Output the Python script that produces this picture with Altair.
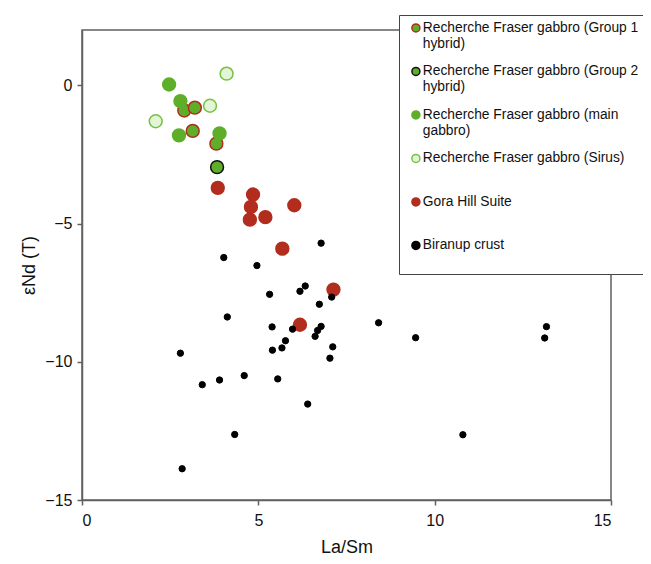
import json
import altair as alt
import pandas as pd

# ---- data ----
groups = [
    "Recherche Fraser gabbro (Group 1 hybrid)",
    "Recherche Fraser gabbro (Group 2 hybrid)",
    "Recherche Fraser gabbro (main gabbro)",
    "Recherche Fraser gabbro (Sirus)",
    "Gora Hill Suite",
    "Biranup crust",
]
wrapped = {
    "Recherche Fraser gabbro (Group 1 hybrid)": ["Recherche Fraser gabbro (Group 1", "hybrid)"],
    "Recherche Fraser gabbro (Group 2 hybrid)": ["Recherche Fraser gabbro (Group 2", "hybrid)"],
    "Recherche Fraser gabbro (main gabbro)": ["Recherche Fraser gabbro (main", "gabbro)"],
}

g1_x = [2.90, 3.20, 3.14, 3.81]
g1_y = [-0.91, -0.81, -1.65, -2.11]
g2_x = [3.83]
g2_y = [-2.96]
main_x = [2.47, 2.79, 2.75, 3.90]
main_y = [0.03, -0.57, -1.81, -1.74]
sirus_x = [4.10, 3.63, 2.09]
sirus_y = [0.42, -0.74, -1.30]
gora_x = [3.85, 4.85, 4.79, 4.76, 5.20, 6.02, 5.68, 7.13, 6.18]
gora_y = [-3.71, -3.95, -4.40, -4.86, -4.77, -4.34, -5.91, -7.39, -8.66]
bir_x = [6.78, 4.02, 4.96, 6.33, 6.18, 5.32, 7.08, 6.73, 4.12, 8.41,
         5.39, 5.97, 6.78, 6.68, 6.61, 5.77, 5.67, 5.40, 7.11, 9.46,
         2.79, 7.03, 3.41, 3.90, 4.60, 5.55, 6.40, 4.33, 2.84, 13.17,
         13.12, 10.80]
bir_y = [-5.71, -6.23, -6.52, -7.26, -7.45, -7.56, -7.66, -7.92, -8.38, -8.59,
         -8.74, -8.82, -8.72, -8.87, -9.08, -9.24, -9.50, -9.58, -9.46, -9.13,
         -9.69, -9.87, -10.83, -10.66, -10.50, -10.62, -11.53, -12.63, -13.87, -8.73,
         -9.14, -12.64]

fills = ["#5FAE2A", "#5FAE2A", "#5FAE2A", "#E3F5D7", "#B22D1E", "#000000"]
strokes = ["#B22D1E", "#111111", "#5FAE2A", "#76C043", "#B22D1E", "#000000"]

xs = [g1_x, g2_x, main_x, sirus_x, gora_x, bir_x]
ys = [g1_y, g2_y, main_y, sirus_y, gora_y, bir_y]
rows = []
for i, g in enumerate(groups):
    for x, y in zip(xs[i], ys[i]):
        rows.append({"group": g, "la_sm": x, "end": y, "order": i})
df = pd.DataFrame(rows)

label_expr = " : ".join(
    f"datum.label === {json.dumps(k)} ? {json.dumps(v)}" for k, v in wrapped.items()
) + " : [datum.label, ' ']"

legend = alt.Legend(
    title=None,
    orient="none",
    legendX=317,
    legendY=-15,
    fillColor="white",
    strokeColor="#444444",
    padding=6,
    symbolType="circle",
    symbolSize=64,
    symbolStrokeWidth=1.5,
    symbolOpacity=1,
    symbolOffset=4,
    labelFont="Liberation Sans",
    labelFontSize=13.8,
    labelColor="#111111",
    labelBaseline="middle",
    labelOffset=0,
    labelLimit=400,
    labelExpr=label_expr,
    rowPadding=12.5,
)

x_enc = alt.X(
    "la_sm:Q",
    title="La/Sm",
    scale=alt.Scale(domain=[0, 15], nice=False),
    axis=alt.Axis(values=[0, 5, 10, 15], grid=False),
)
y_enc = alt.Y(
    "end:Q",
    title="εNd (T)",
    scale=alt.Scale(domain=[-15, 2], nice=False),
    axis=alt.Axis(values=[0, -5, -10, -15], grid=False),
)
fill_enc = alt.Fill("group:N", scale=alt.Scale(domain=groups, range=fills), legend=legend)
stroke_enc = alt.Stroke("group:N", scale=alt.Scale(domain=groups, range=strokes), legend=legend)

base = alt.Chart(df).encode(x=x_enc, y=y_enc, fill=fill_enc, stroke=stroke_enc)

big = base.transform_filter(alt.datum.group != "Biranup crust").mark_circle(
    opacity=1, strokeWidth=1.5, size=165
)
small = base.transform_filter(alt.datum.group == "Biranup crust").mark_circle(
    opacity=1, strokeWidth=1, size=40
)

chart = (
    alt.layer(big, small)
    .properties(
        width=529,
        height=470,
        autosize=alt.AutoSizeParams(type="none"),
        padding={"left": 74, "top": 22, "right": 32, "bottom": 56},
    )
    .configure_view(stroke="#606060", strokeWidth=1.5)
    .configure_axis(
        domainColor="#606060",
        domainWidth=1.5,
        tickColor="#606060",
        tickWidth=1.5,
        tickSize=5,
        labelFont="Liberation Sans",
        labelFontSize=16,
        labelColor="#111111",
        titleFont="Liberation Sans",
        titleFontSize=18,
        titleFontWeight="normal",
        titleColor="#111111",
    )
    .configure_axisX(labelPadding=7, titlePadding=10)
    .configure_axisY(labelPadding=5, titlePadding=6)
)

chart.save("out.html", embed_options={"renderer": "svg", "actions": False})
